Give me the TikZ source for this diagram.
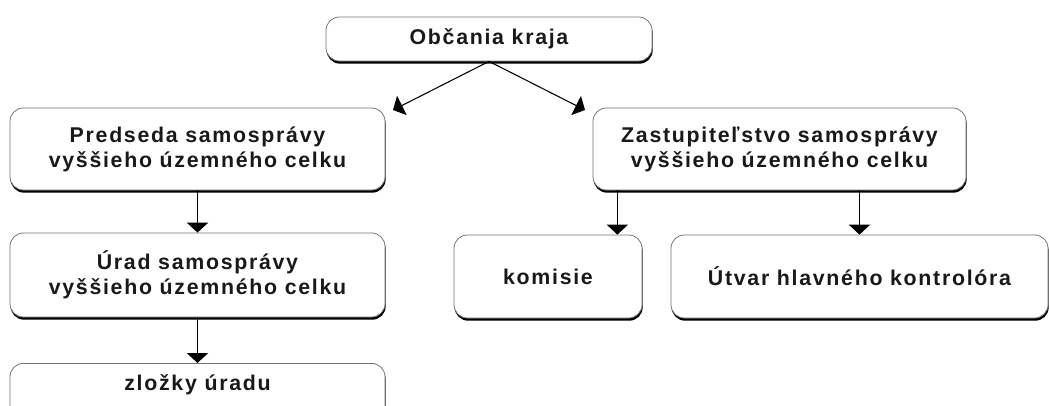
\documentclass[tikz,border=0pt]{standalone}
\usepackage{fontspec}
\setmainfont{Liberation Sans}[LetterSpace=8]
\usetikzlibrary{arrows.meta}
\usetikzlibrary{shadows}

\begin{document}
\begin{tikzpicture}[x=0.75pt,y=-0.75pt,
        box/.style={draw=black!55, line width=0.6pt, fill=white, rounded corners=10pt,
            drop shadow={shadow xshift=0.5pt,shadow yshift=-2pt,fill=black,opacity=1},
            align=center, inner sep=0pt, text=black!90,
            font=\bfseries\fontsize{16}{18.75}\selectfont},
        arr/.style={-{Triangle[width=16pt,length=7.5pt]}, line width=0.8pt}]
                \useasboundingbox (0,0) rectangle (1049,405);
                % top
                \node[box, minimum width=244.5pt, minimum height=33pt] (obcania) at (489,39) {Občania kraja};
                % left column
                \node[box, minimum width=281.25pt, minimum height=61.5pt] (predseda) at (197.5,149)
                    {Predseda samosprávy\\vyššieho územného celku};
                \node[box, minimum width=281.25pt, minimum height=63pt] (urad) at (197.5,275)
                    {Úrad samosprávy\\vyššieho územného celku};
                \node[box, minimum width=281.25pt, text height=20pt, text depth=43pt, anchor=north] (zlozky) at (197.5,363)
                    {zložky úradu};
                % right column
                \node[box, minimum width=279.75pt, minimum height=61.5pt] (zast) at (779.5,149)
                    {Zastupiteľstvo samosprávy\\vyššieho územného celku};
                \node[box, minimum width=141pt, minimum height=62.25pt] (komisie) at (548,276.5) {komisie};
                \node[box, minimum width=282.75pt, minimum height=62.25pt] (utvar) at (859.5,276.5) {Útvar hlavného kontrolóra};
                % arrows
                \coordinate (pl) at (393,110);
                \coordinate (pr) at (585,110);
                \coordinate (k) at ([xshift=-18.75pt]komisie.north east);
                \draw[arr] (obcania.south) -- (pl);
                \draw[arr] (obcania.south) -- (pr);
                \draw[arr] (predseda.south) -- (urad.north);
                \draw[arr] (urad.south) -- (zlozky.north);
                \draw[arr] (zast.south -| k) -- (k);
                \draw[arr] (zast.south -| utvar.north) -- (utvar.north);
\end{tikzpicture}
\end{document}
